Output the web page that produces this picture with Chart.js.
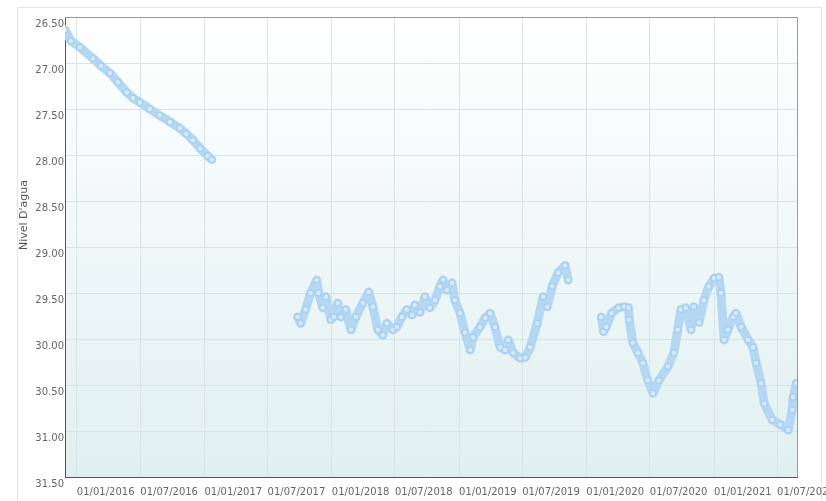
<!DOCTYPE html>
<html>
<head>
<meta charset="utf-8">
<script src="https://cdn.jsdelivr.net/npm/chart.js@4"></script>
<style>
  html, body { margin: 0; padding: 0; background: #fff; }
  #wrap { position: relative; width: 826px; height: 501px; overflow: hidden; }
  #frame { position: absolute; left: 17px; top: 7px; width: 803px; height: 600px; border: 1px solid #e6e6e6; }
  #level-chart { position: absolute; left: 0; top: 0; }
</style>
</head>
<body>
<div id="wrap">
  <div id="frame"></div>
  <canvas id="level-chart" width="826" height="501"></canvas>
</div>
<script>

// readings: date and water level (null = no readings in that period)
const dates = [
  '2015-11-28', '2015-12-15', '2016-01-10', '2016-02-16', '2016-03-10', '2016-04-05',
  '2016-04-28', '2016-05-23', '2016-06-10', '2016-06-30', '2016-07-28', '2016-08-26',
  '2016-09-24', '2016-10-22', '2016-11-10', '2016-11-29', '2016-12-20', '2017-01-10',
  '2017-01-22',
  '2017-05-01',
  '2017-09-25', '2017-10-04', '2017-10-18', '2017-11-01', '2017-11-19', '2017-11-24',
  '2017-12-06', '2017-12-15', '2017-12-29', '2018-01-07', '2018-01-18', '2018-01-27',
  '2018-02-10', '2018-02-25', '2018-03-11', '2018-03-31', '2018-04-17', '2018-04-29',
  '2018-05-13', '2018-05-27', '2018-06-08', '2018-06-25', '2018-07-07', '2018-07-21',
  '2018-08-04', '2018-08-19', '2018-08-27', '2018-09-11', '2018-09-25', '2018-10-09',
  '2018-10-24', '2018-11-07', '2018-11-16', '2018-11-27', '2018-12-12', '2018-12-20',
  '2019-01-04', '2019-01-18', '2019-02-02', '2019-02-10', '2019-03-02', '2019-03-17',
  '2019-03-31', '2019-04-14', '2019-04-29', '2019-05-13', '2019-05-22', '2019-06-05',
  '2019-06-25', '2019-07-10', '2019-07-24', '2019-08-13', '2019-08-30', '2019-09-11',
  '2019-09-25', '2019-10-12', '2019-11-01', '2019-11-10',
  '2019-12-20',
  '2020-02-13', '2020-02-19', '2020-02-27', '2020-03-13', '2020-04-02', '2020-04-19',
  '2020-05-01', '2020-05-03', '2020-05-13', '2020-05-28', '2020-06-11', '2020-06-25',
  '2020-07-10', '2020-07-27', '2020-08-22', '2020-09-08', '2020-09-19', '2020-09-28',
  '2020-10-12', '2020-10-27', '2020-11-04', '2020-11-19', '2020-12-03', '2020-12-17',
  '2021-01-01', '2021-01-15', '2021-01-21', '2021-01-30', '2021-02-10', '2021-02-25',
  '2021-03-05', '2021-03-20', '2021-04-09', '2021-04-23', '2021-05-02', '2021-05-16',
  '2021-05-25', '2021-06-17', '2021-07-10', '2021-08-02', '2021-08-13', '2021-08-16',
  '2021-08-25'
];
const levels = [
  26.64, 26.76, 26.83, 26.95, 27.03, 27.11,
  27.21, 27.32, 27.38, 27.43, 27.50, 27.57,
  27.64, 27.71, 27.77, 27.84, 27.93, 28.01,
  28.05,
  null,
  29.76, 29.83, 29.68, 29.50, 29.36, 29.50,
  29.66, 29.54, 29.79, 29.76, 29.61, 29.76,
  29.68, 29.90, 29.76, 29.61, 29.49, 29.65,
  29.90, 29.96, 29.83, 29.90, 29.87, 29.76,
  29.68, 29.74, 29.63, 29.71, 29.54, 29.66,
  29.58, 29.43, 29.36, 29.47, 29.39, 29.58,
  29.72, 29.93, 30.12, 29.98, 29.87, 29.77,
  29.72, 29.87, 30.09, 30.12, 30.01, 30.15,
  30.21, 30.20, 30.09, 29.83, 29.54, 29.65,
  29.43, 29.28, 29.20, 29.36,
  null,
  29.76, 29.92, 29.87, 29.72, 29.66, 29.65,
  29.66, 29.79, 30.04, 30.15, 30.26, 30.45,
  30.59, 30.45, 30.30, 30.15, 29.90, 29.68,
  29.66, 29.90, 29.65, 29.82, 29.58, 29.43,
  29.34, 29.33, 29.50, 30.01, 29.90, 29.76,
  29.72, 29.87, 30.01, 30.09, 30.26, 30.48,
  30.70, 30.88, 30.93, 30.99, 30.77, 30.63,
  30.48
];

const tickDates = [
  '2016-01-01', '2016-07-01', '2017-01-01', '2017-07-01', '2018-01-01', '2018-07-01',
  '2019-01-01', '2019-07-01', '2020-01-01', '2020-07-01', '2021-01-01', '2021-07-01'
];
const xStart = '2015-11-28';
const xEnd = '2021-08-27';

function toMs(s) {
  const p = s.split('-');
  return Date.UTC(+p[0], +p[1] - 1, +p[2]);
}

function fmtDate(ms) {
  const d = new Date(ms);
  const dd = String(d.getUTCDate()).padStart(2, '0');
  const mm = String(d.getUTCMonth() + 1).padStart(2, '0');
  return dd + '/' + mm + '/' + d.getUTCFullYear();
}

const points = dates.map((d, i) => ({ x: toMs(d), y: levels[i] }));

// background gradient, top/right border and axis title
const plotDecor = {
  id: 'plotDecor',
  beforeDraw(chart) {
    const { ctx, chartArea: a } = chart;
    const g = ctx.createLinearGradient(0, a.top, 0, a.bottom);
    g.addColorStop(0, '#ffffff');
    g.addColorStop(1, '#e0f0f0');
    ctx.save();
    ctx.fillStyle = g;
    ctx.fillRect(a.left, a.top, a.right - a.left, a.bottom - a.top);
    ctx.restore();
  },
  afterDraw(chart) {
    const { ctx, chartArea: a } = chart;
    ctx.save();
    ctx.strokeStyle = '#9a9a9a';
    ctx.lineWidth = 1;
    ctx.beginPath();
    ctx.moveTo(a.left, a.top + 0.5);
    ctx.lineTo(a.right + 0.5, a.top + 0.5);
    ctx.lineTo(a.right + 0.5, a.bottom);
    ctx.stroke();

    ctx.translate(24, 215);
    ctx.rotate(-Math.PI / 2);
    ctx.fillStyle = '#555';
    ctx.font = '11px "DejaVu Sans"';
    ctx.textAlign = 'center';
    ctx.textBaseline = 'middle';
    ctx.fillText("Nivel D'agua", 0, 0);
    ctx.restore();
  }
};

const ctx = document.getElementById('level-chart').getContext('2d');

new Chart(ctx, {
  type: 'line',
  data: {
    datasets: [{
      label: "Nivel D'agua",
      data: points,
      borderColor: '#b4d8f4',
      borderWidth: 9,
      borderJoinStyle: 'round',
      borderCapStyle: 'round',
      pointRadius: 3,
      pointBorderWidth: 1.5,
      pointBorderColor: '#a9d0f0',
      pointBackgroundColor: '#d6eafa',
      spanGaps: false,
      tension: 0
    }]
  },
  options: {
    responsive: false,
    animation: false,
    devicePixelRatio: 1,
    layout: { padding: { top: 17, right: 29, bottom: 0, left: 0 } },
    plugins: {
      legend: { display: false },
      tooltip: { enabled: false }
    },
    scales: {
      x: {
        type: 'linear',
        min: toMs(xStart),
        max: toMs(xEnd),
        afterBuildTicks: (scale) => {
          scale.ticks = tickDates.map(d => ({ value: toMs(d) }));
        },
        afterFit: (scale) => {
          scale.height = 24;
          scale.paddingLeft = 0;
          scale.paddingRight = 0;
        },
        ticks: {
          align: 'start',
          autoSkip: false,
          maxRotation: 0,
          padding: 9,
          color: '#666',
          font: { family: 'DejaVu Sans', size: 10 },
          callback: (v) => fmtDate(v)
        },
        grid: { color: '#dbe3e5', drawTicks: false },
        border: { color: '#555', width: 1 }
      },
      y: {
        reverse: true,
        min: 26.5,
        max: 31.5,
        afterFit: (scale) => {
          scale.width = 65;
          scale.paddingTop = 0;
          scale.paddingBottom = 0;
        },
        ticks: {
          stepSize: 0.5,
          padding: 1,
          labelOffset: 7,
          color: '#666',
          font: { family: 'DejaVu Sans', size: 10 },
          callback: (v) => v.toFixed(2)
        },
        grid: { color: '#dbe3e5', drawTicks: false },
        border: { color: '#555', width: 1 }
      }
    }
  },
  plugins: [plotDecor]
});
</script>
</body>
</html>
